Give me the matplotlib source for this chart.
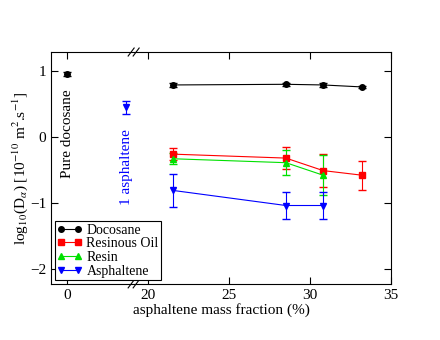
import matplotlib
matplotlib.use('Agg')
import matplotlib.pyplot as plt
import matplotlib.transforms as mtransforms
from matplotlib.lines import Line2D

plt.rcParams['font.family'] = ['Liberation Serif', 'DejaVu Serif']
plt.rcParams['mathtext.fontset'] = 'stix'

# data (asphaltene mass fraction in %, log10 D, error)
frac = [21.5, 28.5, 30.8, 33.2]
doco = [0.79, 0.80, 0.79, 0.76]
doco_err = [0.03, 0.02, 0.03, 0.02]
oil = [-0.26, -0.32, -0.51, -0.58]
oil_err = [0.09, 0.17, 0.25, 0.22]
resin_frac = [21.5, 28.5, 30.8]
resin = [-0.33, -0.39, -0.58]
resin_err = [0.08, 0.19, 0.30]
asph_frac = [21.5, 28.5, 30.8]
asph = [-0.81, -1.04, -1.04]
asph_err = [0.25, 0.21, 0.21]
pure_doco = 0.95
pure_doco_err = 0.03
one_asph = 0.45
one_asph_err = 0.10

# broken axis: "0" is drawn at position 15, single asphaltene near the break
pos_zero = 15.0
pos_one = 18.65
pos_break = 19.1

fig = plt.figure(figsize=(4.4, 3.4), dpi=100)
ax = fig.add_axes([0.116, 0.165, 0.773, 0.682])

series = [
    (frac, doco, doco_err, 'black', 'o', 'Docosane'),
    (frac, oil, oil_err, 'red', 's', 'Resinous Oil'),
    (resin_frac, resin, resin_err, '#00e000', '^', 'Resin'),
    (asph_frac, asph, asph_err, 'blue', 'v', 'Asphaltene'),
]
handles = []
for xs, ys, es, c, m, lab in series:
    ax.errorbar(xs, ys, yerr=es, color=c, marker=m, ms=4, lw=0.8,
                elinewidth=0.8, capsize=3)
    handles.append(Line2D([], [], color=c, marker=m, ms=4, lw=0.8, label=lab))

ax.errorbar([pos_zero], [pure_doco], yerr=[pure_doco_err], color='black', marker='o', ms=4,
            elinewidth=0.8, capsize=3, ls='none')
ax.errorbar([pos_one], [one_asph], yerr=[one_asph_err], color='blue', marker='v', ms=4,
            elinewidth=0.8, capsize=3, ls='none')

ax.text(pos_zero, 0.05, 'Pure docosane', rotation=90, ha='center', va='center',
        fontsize=11, color='black')
ax.text(pos_one, -0.45, '1 asphaltene', rotation=90, ha='center', va='center',
        fontsize=11, color='blue')

# break marks: two short slanted strokes on top and bottom spines
trans = mtransforms.blended_transform_factory(ax.transData, ax.transAxes)
px_x = 1 / 16.2   # data units per pixel along x
px_y = 1 / 232.0  # axes units per pixel along y
for yy in [0.0, 1.0]:
    for off in [-2.5, 2.5]:
        xc = pos_break + off * px_x
        ax.plot([xc - 3 * px_x, xc + 3 * px_x], [yy - 4 * px_y, yy + 4 * px_y],
                color='black', lw=0.8, transform=trans, clip_on=False)

ax.set_xlim(14.0, 35)
ax.set_ylim(-2.23, 1.29)
ax.set_xticks([pos_zero, 20, 25, 30, 35])
ax.set_xticklabels(['0', '20', '25', '30', '35'])
ax.set_yticks([-2, -1, 0, 1])
ax.tick_params(direction='in', top=True, right=True, labelsize=11, length=5, width=0.8)
for s in ax.spines.values():
    s.set_linewidth(0.8)

ax.set_xlabel('asphaltene mass fraction (%)', fontsize=11, labelpad=1)
ax.set_ylabel(r'log$_{10}$(D$_{\alpha}$) [10$^{-10}$ m$^{2}$.s$^{-1}$]', fontsize=11,
              labelpad=0)

leg = ax.legend(handles=handles, loc='lower left', fontsize=10, numpoints=2,
                handlelength=1.8, handletextpad=0.3, borderpad=0.2, labelspacing=0.05,
                fancybox=False, framealpha=1, edgecolor='black', borderaxespad=0.25)
leg.get_frame().set_linewidth(0.8)

fig.savefig('out.png', dpi=100)
